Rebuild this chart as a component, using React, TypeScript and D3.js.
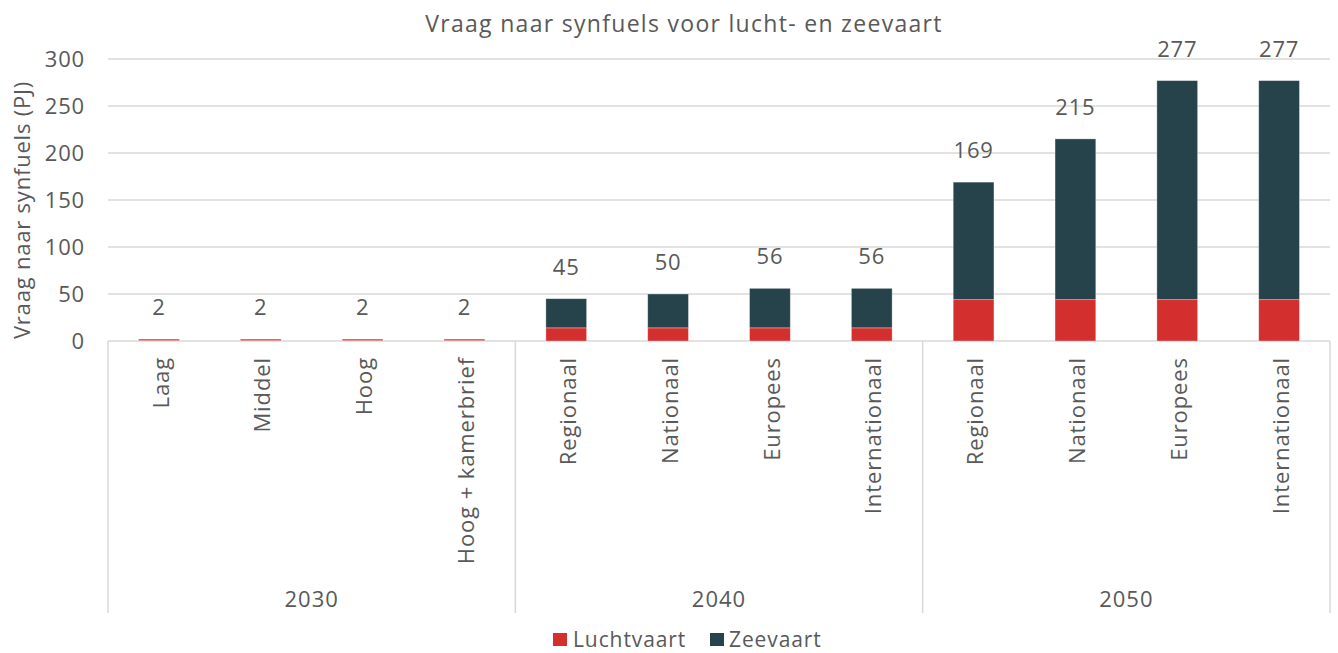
import React from "react";
import * as d3 from "d3";

const years = ["2030", "2040", "2050"];
const scenarios = [
  ["Laag", "Middel", "Hoog", "Hoog + kamerbrief"],
  ["Regionaal", "Nationaal", "Europees", "Internationaal"],
  ["Regionaal", "Nationaal", "Europees", "Internationaal"],
];
const luchtvaart = [1, 1, 1, 1, 14, 14, 14, 14, 44, 44, 44, 44];
const zeevaart = [1, 1, 1, 1, 31, 36, 42, 42, 125, 171, 233, 233];
const totals = [2, 2, 2, 2, 45, 50, 56, 56, 169, 215, 277, 277];
const yTicks = [0, 50, 100, 150, 200, 250, 300];

const W = 1338;
const H = 653;
const left = 108;
const right = 1330;
const top = 59;
const bottom = 341;
const sepBottom = 613;

const red = "#D32F2F";
const dark = "#26424A";
const textCol = "#595959";
const gridCol = "#D9D9D9";
const font = "'Open Sans', Lato, sans-serif";

const App = () => {
  const ids = d3.range(luchtvaart.length).map(String);
  const x = d3
    .scaleBand()
    .domain(ids)
    .range([left, right])
    .paddingInner(0.6)
    .paddingOuter(0.3);
  const y = d3.scaleLinear().domain([0, 300]).range([bottom, top]);

  const stack = d3.stack().keys(["l", "z"])(
    ids.map((id, i) => ({ l: luchtvaart[i], z: zeevaart[i] })) as any
  );
  const colors = [red, dark];

  const groupW = (right - left) / years.length;
  const labels = scenarios.flat();

  return (
    <svg
      width={W}
      height={H}
      style={{ position: "absolute", left: 0, top: 0, fontFamily: font }}
    >
      <text x={684} y={32} textAnchor="middle" fontSize={23} letterSpacing={1.3} fill={textCol}>
        Vraag naar synfuels voor lucht- en zeevaart
      </text>

      {yTicks.map((t) => (
        <g key={t}>
          <line x1={left} x2={right} y1={y(t)} y2={y(t)} stroke={gridCol} strokeWidth={1.5} />
          <text x={85} y={y(t)} dy="0.36em" textAnchor="end" fontSize={22} letterSpacing={0.8} fill={textCol}>
            {t}
          </text>
        </g>
      ))}

      <text
        transform={`translate(22,${210}) rotate(-90)`}
        textAnchor="middle"
        dy="0.35em"
        fontSize={22}
        letterSpacing={0.8}
        fill={textCol}
      >
        Vraag naar synfuels (PJ)
      </text>

      {d3.range(years.length + 1).map((k) => (
        <line
          key={k}
          x1={left + k * groupW}
          x2={left + k * groupW}
          y1={bottom}
          y2={sepBottom}
          stroke={gridCol}
          strokeWidth={1.5}
        />
      ))}

      {stack.map((s, si) =>
        s.map((d, i) => (
          <rect
            key={`${si}-${i}`}
            x={x(ids[i])}
            y={y(d[1])}
            width={x.bandwidth()}
            height={y(d[0]) - y(d[1])}
            fill={colors[si]}
            stroke="#ffffff"
            strokeOpacity={0.4}
            strokeWidth={0.8}
          />
        ))
      )}

      {totals.map((t, i) => (
        <text
          key={i}
          x={(x(ids[i]) as number) + x.bandwidth() / 2}
          y={y(t) - 24}
          textAnchor="middle"
          fontSize={22}
          letterSpacing={0.8}
          fill={textCol}
        >
          {t}
        </text>
      ))}

      {labels.map((l, i) => (
        <text
          key={i}
          transform={`translate(${(x(ids[i]) as number) + x.bandwidth() / 2 + 2},${357}) rotate(-90)`}
          textAnchor="end"
          dy="0.35em"
          fontSize={22}
          letterSpacing={0.9}
          fill={textCol}
        >
          {l}
        </text>
      ))}

      {years.map((yr, k) => (
        <text
          key={yr}
          x={left + groupW * (k + 0.5)}
          y={607}
          textAnchor="middle"
          fontSize={22}
          letterSpacing={1}
          fill={textCol}
        >
          {yr}
        </text>
      ))}

      <g transform="translate(553,633)">
        <rect x={0} y={0} width={14} height={13} fill={red} />
        <text x={20} y={14} fontSize={21} letterSpacing={0.9} fill={textCol}>
          Luchtvaart
        </text>
        <rect x={157} y={0} width={14} height={13} fill={dark} />
        <text x={176} y={14} fontSize={21} letterSpacing={0.9} fill={textCol}>
          Zeevaart
        </text>
      </g>
    </svg>
  );
};

export default App;
